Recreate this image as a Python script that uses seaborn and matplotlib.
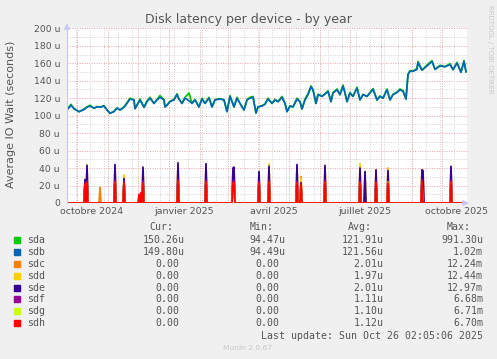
import numpy as np
import pandas as pd
import matplotlib
matplotlib.use("Agg")
import matplotlib.pyplot as plt
import seaborn as sns

# ---------------- data ----------------
start = pd.Timestamp("2024-09-21 02:05:06")
end = pd.Timestamp("2025-10-26 02:05:06")

devices = ["sda", "sdb", "sdc", "sdd", "sde", "sdf", "sdg", "sdh"]
colors = ["#00CC00", "#0066B3", "#FF8000", "#FFCC00", "#330099", "#990099", "#CCFF00", "#FF0000"]

# sda / sdb : average IO wait (micro-seconds), day offset from start
main_days = [0, 4, 7, 12, 17, 20, 23, 27, 30, 33, 37, 40, 43, 47, 50, 53, 57, 60, 63, 67,
             68, 70, 73, 77, 80, 83, 87, 90, 93, 97, 98, 100, 103, 107, 110, 112, 115, 118, 122, 125,
             128, 132, 135, 138, 142, 145, 148, 153, 157, 160, 163, 167, 170, 173, 177, 180, 183, 186, 189, 191,
             195, 198, 201, 205, 208, 211, 215, 218, 220, 223, 226, 230, 233, 235, 238, 241, 244, 246, 249, 251,
             255, 258, 261, 264, 266, 270, 273, 276, 278, 280, 283, 286, 290, 293, 296, 300, 303, 306, 310, 313,
             316, 320, 323, 326, 330, 333, 336, 339, 341, 343, 346, 350, 351, 355, 360, 365, 368, 373, 378, 383,
             386, 390, 394, 397, 399]
sdb_vals = [106.5, 112, 108, 104.5, 107, 109.6, 111, 108.5, 110, 109.6, 111, 106.5, 102.7, 104.6, 108.5, 106.5, 109.6, 114, 119, 118,
            108, 112, 118, 109.6, 116, 120, 114, 118, 121, 118, 110, 112, 116, 118, 124, 119, 114, 120, 117, 114,
            118, 110, 119, 114, 120, 110, 118, 119, 118, 104.6, 122, 110, 120, 114, 106.5, 118, 120, 121, 103, 110,
            111, 113, 119, 114, 118, 116, 121, 114, 104.6, 111, 110, 119, 116, 107.7, 118, 124, 133, 129.6, 114, 124,
            122, 124.6, 127.7, 116, 125.8, 129.6, 124, 134, 125.8, 116, 125.8, 122, 131.5, 118, 124, 122, 125.8, 130, 118, 122,
            120, 129.6, 118, 124, 126.5, 129.6, 128, 119, 147, 150.8, 150.8, 153, 161, 152, 157, 162, 153, 157, 156, 158.5,
            152.7, 160, 149.6, 162, 150.3]
sda_vals = [107, 113, 108, 104.5, 107.5, 110, 112, 108.5, 110.5, 109.6, 111.5, 106.5, 102.7, 105, 109, 106.5, 110, 115, 120, 118,
            108, 112.5, 119, 109.6, 117, 121, 114, 118.5, 123, 118, 110, 112, 116.5, 118.5, 125, 119, 114, 121, 126, 114,
            118.5, 110, 120, 114, 121, 110, 118.5, 119.5, 118, 104.6, 123, 110, 121, 114, 106.5, 118.5, 121, 122, 103, 110,
            111.5, 113.5, 120, 114, 118.5, 116, 122, 114, 104.6, 111, 110, 120, 116, 107.7, 119, 125, 134, 130, 114, 124.5,
            122.5, 125, 128.5, 116, 126.5, 130.5, 124, 135, 126, 116, 126.5, 122, 132.5, 118, 124.5, 122, 126.5, 131, 118, 122.5,
            120, 130.5, 118, 124.5, 127, 130.5, 128.5, 119, 147.5, 151.5, 151, 154, 162, 152, 158, 163, 153, 157.5, 156, 159.5,
            152.7, 161, 149.6, 163, 150.3]

# sdc..sdh : sparse daily spikes (day offset, value in micro-seconds), zero elsewhere
sdc_days = [18, 20, 33, 48, 57, 76, 111, 139, 166, 167, 192, 202, 230, 234, 258, 293, 298, 309, 321, 355, 356, 384]
sdc_vals = [26, 42, 18, 43, 27, 40, 45, 44, 39, 40, 35, 41, 43, 30, 42, 39, 35, 37, 40, 38, 36, 41]
sdd_days = [18, 20, 48, 57, 76, 111, 139, 166, 167, 192, 202, 230, 234, 258, 293, 298, 309, 321, 355, 384]
sdd_vals = [26, 44, 43, 32, 40, 45, 44, 39, 40, 35, 45, 43, 28, 42, 45, 35, 37, 39, 38, 41]
sde_days = [18, 20, 48, 57, 76, 111, 139, 166, 167, 192, 202, 230, 234, 258, 293, 298, 309, 321, 355, 356, 384]
sde_vals = [27, 43, 44, 28, 41, 46, 45, 40, 41, 36, 42, 44, 23, 43, 40, 36, 38, 37, 38, 37, 42]
sdf_days = [18, 20, 48, 57, 76, 111, 139, 166, 167, 192, 202, 230, 234, 258, 293, 309, 321, 355, 384]
sdf_vals = [24, 25, 26, 25, 25, 27, 26, 25, 26, 25, 26, 25, 23, 26, 25, 25, 24, 27, 26]
sdg_days = [18, 20, 48, 57, 72, 74, 76, 111, 139, 166, 167, 192, 202, 230, 234, 258, 293, 309, 321, 355, 384]
sdg_vals = [21, 22, 23, 22, 9, 11, 22, 24, 23, 22, 23, 22, 23, 22, 20, 23, 22, 22, 24, 23, 23]
sdh_days = [18, 20, 48, 57, 72, 74, 76, 111, 139, 166, 167, 192, 202, 230, 234, 258, 293, 309, 321, 355, 384]
sdh_vals = [22, 23, 24, 23, 10, 12, 23, 25, 24, 23, 24, 23, 24, 23, 21, 24, 23, 23, 23, 24, 24]

legend_cur = ["150.26u", "149.80u", "0.00", "0.00", "0.00", "0.00", "0.00", "0.00"]
legend_min = ["94.47u", "94.49u", "0.00", "0.00", "0.00", "0.00", "0.00", "0.00"]
legend_avg = ["121.91u", "121.56u", "2.01u", "1.97u", "2.01u", "1.11u", "1.10u", "1.12u"]
legend_max = ["991.30u", "1.02m", "12.24m", "12.44m", "12.97m", "6.68m", "6.71m", "6.70m"]

y_ticks = [0, 20, 40, 60, 80, 100, 120, 140, 160, 180, 200]
x_label_dates = ["2024-10-16", "2025-01-16", "2025-04-16", "2025-07-16", "2025-10-16"]
x_labels = ["octobre 2024", "janvier 2025", "avril 2025", "juillet 2025", "octobre 2025"]

# ---------------- build long table ----------------
frames = []
for name, days, vals in [("sda", main_days, sda_vals), ("sdb", main_days, sdb_vals)]:
    frames.append(pd.DataFrame({"date": start + pd.to_timedelta(days, unit="D"),
                                "value": vals, "device": name}))
all_days = np.arange(0, 401)
for name, days, vals in [("sdc", sdc_days, sdc_vals), ("sdd", sdd_days, sdd_vals),
                         ("sde", sde_days, sde_vals), ("sdf", sdf_days, sdf_vals),
                         ("sdg", sdg_days, sdg_vals), ("sdh", sdh_days, sdh_vals)]:
    v = np.zeros(len(all_days))
    v[np.array(days)] = vals
    frames.append(pd.DataFrame({"date": start + pd.to_timedelta(all_days, unit="D"),
                                "value": v, "device": name}))
df = pd.concat(frames, ignore_index=True)

# ---------------- figure ----------------
W, H = 497, 359
fig = plt.figure(figsize=(W / 100, H / 100), dpi=100, facecolor="#F0F0F0")
ax = fig.add_axes([67 / W, (H - 203) / H, 400 / W, (203 - 28.3) / H])
ax.set_facecolor("white")

txt = "#555555"
minor_c = "#d2d2d2"
major_c = "#e6a3a3"
dot = (0, (1, 1.5))

for v in range(10, 201, 10):
    ax.axhline(v, color=major_c if v % 20 == 0 else minor_c, ls=dot, lw=0.7, zorder=0)
for d in pd.date_range("2024-09-30", end, freq="14D"):
    ax.axvline(d, color=minor_c, ls=dot, lw=0.7, zorder=0)
for d in pd.date_range("2024-10-01", end, freq="MS"):
    ax.axvline(d, color=major_c, ls=dot, lw=0.7, zorder=0.5)

sns.lineplot(data=df, x="date", y="value", hue="device", hue_order=devices,
             palette=colors, legend=False, estimator=None, linewidth=1.25, ax=ax)

ax.set_xlim(start, end)
ax.set_ylim(0, 200)
for s in ["top", "right", "bottom"]:
    ax.spines[s].set_visible(False)
ax.spines["left"].set_color("#c8c8f0")
ax.spines["left"].set_linewidth(0.8)
ax.annotate("", xy=(0, 1.045), xytext=(0, 0.99), xycoords="axes fraction",
            arrowprops=dict(arrowstyle="-|>,head_width=0.18,head_length=0.35", color="#c8c8f0", lw=0.8))
ax.annotate("", xy=(1.012, 0), xytext=(0.99, 0), xycoords="axes fraction",
            arrowprops=dict(arrowstyle="-|>,head_width=0.18,head_length=0.35", color="#c8c8f0", lw=0.8))

ax.set_yticks(y_ticks)
ax.set_yticklabels(["0" if t == 0 else f"{t} u" for t in y_ticks])
ax.set_xticks(pd.to_datetime(x_label_dates))
ax.set_xticklabels(x_labels)
ax.tick_params(axis="y", length=0, pad=5, labelsize=6.7, labelcolor=txt)
ax.tick_params(axis="x", length=0, pad=3, labelsize=6.8, labelcolor=txt)
ax.set_xlabel("")
ax.set_ylabel("")

fig.text(10.7 / W, 1 - 114 / H, "Average IO Wait (seconds)", rotation=90,
         ha="center", va="center", fontsize=8, color=txt)
fig.text(248 / W, 1 - 19 / H, "Disk latency per device - by year",
         ha="center", va="center", fontsize=9, color=txt)
fig.text(490 / W, 1 - 5 / H, "RRDTOOL / TOBI OETIKER", rotation=270,
         ha="center", va="top", fontsize=5, color="#c8c8c8")

# ---------------- legend table ----------------
mono = "DejaVu Sans Mono"
fs = 7.1
cw = 5.97
heads = [("Cur:", 149.3), ("Min:", 249.3), ("Avg:", 348.3), ("Max:", 446.7)]
for h, x in heads:
    fig.text(x / W, 1 - 227.3 / H, h, family=mono, fontsize=fs, color=txt, ha="left", va="center")
row_y = [240, 252, 263.7, 275.7, 287.7, 299.3, 311.3, 323.3]
col_right = [185, 285, 383.5, 483]
for i, name in enumerate(devices):
    y = 1 - row_y[i] / H
    fig.patches.append(plt.Rectangle((14 / W, 1 - (row_y[i] + 3) / H), 6 / W, 6 / H,
                                     transform=fig.transFigure, color=colors[i], figure=fig))
    fig.text(26.7 / W, y, name, family=mono, fontsize=fs, color=txt, ha="left", va="center")
    for col, xr in zip([legend_cur, legend_min, legend_avg, legend_max], col_right):
        s = col[i]
        xx = xr if s[-1].isalpha() else xr - cw
        fig.text(xx / W, y, s, family=mono, fontsize=fs, color=txt, ha="right", va="center")

fig.text(483 / W, 1 - 335.7 / H, "Last update: Sun Oct 26 02:05:06 2025", family=mono,
         fontsize=fs, color=txt, ha="right", va="center")
fig.text(247.7 / W, 1 - 347.7 / H, "Munin 2.0.67", fontsize=5.4, color="#c8c8c8",
         ha="center", va="center")

fig.savefig("out.png", dpi=100, facecolor=fig.get_facecolor())
